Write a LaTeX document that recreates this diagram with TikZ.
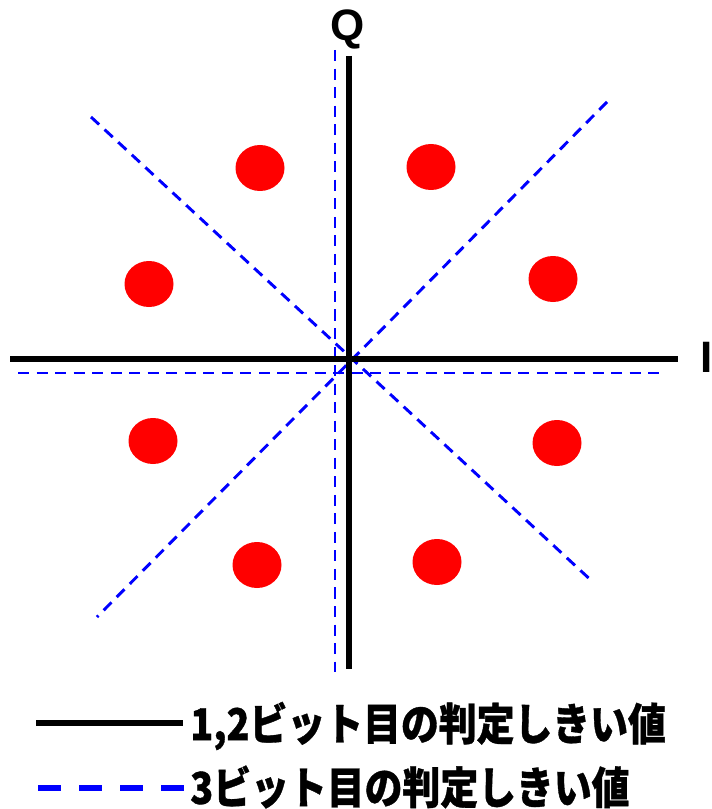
\documentclass[tikz,border=0pt]{standalone}
\usepackage{fontspec}
\setmainfont{Liberation Sans}
\newfontfamily\jpfont{Noto Sans CJK JP}[FakeStretch=0.86, BoldFeatures={FakeBold=0.8}]
\usetikzlibrary{positioning}
\definecolor{qam-dot}{HTML}{FF0000}
\definecolor{qam-blue}{HTML}{0000FF}

\tikzset{
  axisline/.style={black, line width=4.5pt},
  thresh/.style={qam-blue, line width=2.2pt, dash pattern=on 8.3pt off 5.6pt},
  axislabel/.style={font=\fontsize{33}{33}\selectfont\bfseries, inner sep=0pt},
  legendtext/.style={font=\jpfont\fontsize{33}{33}\selectfont\bfseries, inner sep=0pt, anchor=west}
}

\begin{document}
\begin{tikzpicture}[x=0.75pt, y=-0.75pt]
    \useasboundingbox (0,0) rectangle (711,809);

    % Decision thresholds for bit 3 (dashed, drawn first)
    \draw[thresh] (335,50) -- (335,672);
    \draw[thresh] (18,373) -- (664,373);
    \draw[thresh] (91,117) -- (594,583);
    \draw[thresh] (607,102) -- (97,617);

    % I/Q axes = thresholds for bits 1,2
    \coordinate (qtop) at (349,56);
    \coordinate (qbot) at (349,669);
    \coordinate (ileft) at (10,359);
    \coordinate (iright) at (678,359);
    \draw[axisline] (qtop) -- (qbot);
    \draw[axisline] (ileft) -- (iright);
    \node[axislabel] (qlab) at (348,29) {Q};
    \node[axislabel, anchor=west] (ilab) at (700,357) {I};

    % 8PSK constellation points
    \foreach \pos in {(260,168), (431,167), (149,284), (553,279),
                      (153,441), (557,443), (257,565), (437,562)} {
        \fill[qam-dot] \pos ellipse (24.5 and 23);
    }

    % Legend
    \node[legendtext] (lab12) at (190,726) {1,2ビット目の判定しきい値};
    \node[legendtext] (lab3) at (190,787) {3ビット目の判定しきい値};
    \coordinate (leg12) at (36,723);
    \coordinate (leg3) at (38,788);
    \draw[black, line width=4.5pt] (leg12) -- (183,723);
    \draw[qam-blue, line width=3.8pt, dash pattern=on 17.3pt off 13.5pt] (leg3) -- (185,788);
\end{tikzpicture}
\end{document}
